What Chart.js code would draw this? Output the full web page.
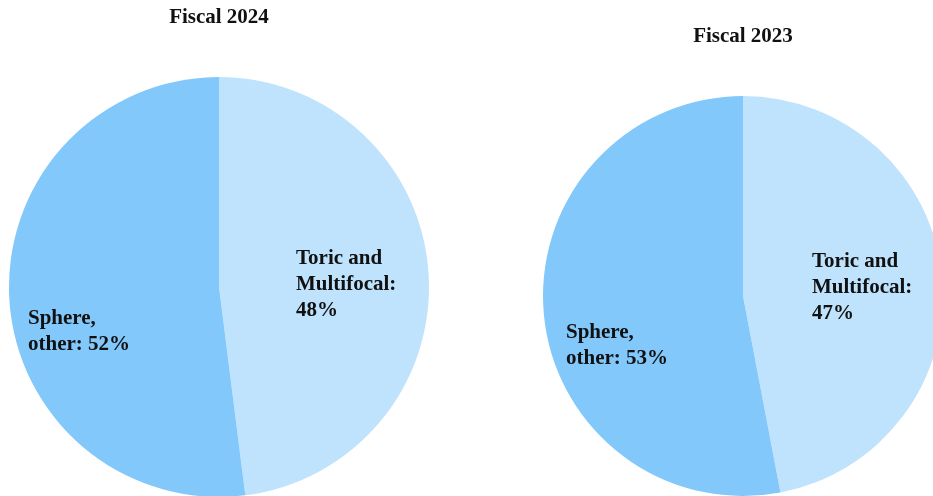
<!DOCTYPE html>
<html>
<head>
<meta charset="utf-8">
<script src="https://cdn.jsdelivr.net/npm/chart.js@4/dist/chart.umd.min.js"></script>
<style>
  html, body { margin: 0; padding: 0; background: #fff; overflow: hidden; width: 933px; height: 496px; }
  .wrap { position: absolute; top: 0; }
</style>
</head>
<body>
<div class="wrap" style="left:0;width:466px;height:500px"><canvas id="pie2024"></canvas></div>
<div class="wrap" style="left:466px;width:480px;height:500px"><canvas id="pie2023"></canvas></div>
<script>
// data
const categories = ['Toric and Multifocal', 'Sphere, other'];
const labelTemplates = [['Toric and', 'Multifocal:', '{v}%'], ['Sphere,', 'other: {v}%']];
const fiscal2024 = [48, 52];
const fiscal2023 = [47, 53];
const sliceColors = ['#BFE3FC', '#82C8FB'];

// draws the title above the pie and the text labels inside the slices
const pieText = {
  id: 'pieText',
  afterDraw(chart, args, opts) {
    const ctx = chart.ctx;
    const arc = chart.getDatasetMeta(0).data[0];
    const cx = arc.x, cy = arc.y;
    ctx.save();
    ctx.fillStyle = '#111';
    ctx.textBaseline = 'middle';
    ctx.font = 'bold 21px "Liberation Serif", "Times New Roman", serif';
    ctx.textAlign = 'center';
    ctx.fillText(opts.title, cx, chart.chartArea.top - 59);

    ctx.textAlign = 'left';
    const values = chart.data.datasets[0].data;
    labelTemplates.forEach((lines, i) => {
      const [dx, dy] = opts.offsets[i];
      lines.forEach((ln, j) => {
        ctx.fillText(ln.replace('{v}', values[i]), cx + dx, cy + dy + j * 26);
      });
    });
    ctx.restore();
  }
};

function makePie(id, values, title, padding, offsets) {
  return new Chart(document.getElementById(id), {
    type: 'pie',
    data: {
      labels: categories,
      datasets: [{
        data: values,
        backgroundColor: sliceColors,
        borderWidth: 0,
        hoverOffset: 0
      }]
    },
    options: {
      responsive: true,
      maintainAspectRatio: false,
      animation: false,
      layout: { padding: padding },
      plugins: {
        legend: { display: false },
        tooltip: { enabled: false },
        pieText: { title: title, offsets: offsets }
      }
    },
    plugins: [pieText]
  });
}

makePie('pie2024', fiscal2024, 'Fiscal 2024',
  { left: 9, top: 77, right: 37, bottom: 3 },
  [[77, -28], [-191, 32]]);

makePie('pie2023', fiscal2023, 'Fiscal 2023',
  { left: 77, top: 96, right: 3, bottom: 4 },
  [[69, -34], [-177, 37]]);
</script>
</body>
</html>
